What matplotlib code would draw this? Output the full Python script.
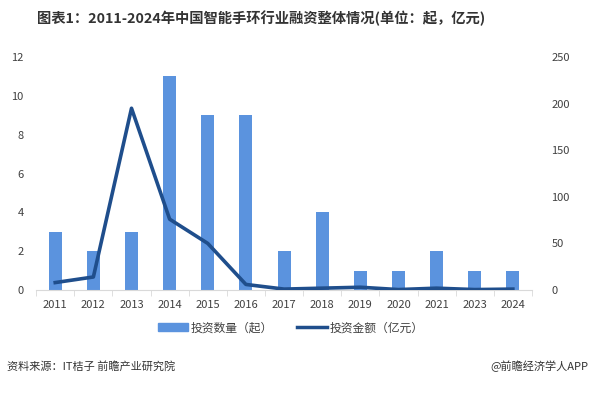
import matplotlib
matplotlib.use("Agg")
import matplotlib.pyplot as plt
from matplotlib.patches import Patch
from matplotlib.lines import Line2D
import numpy as np

plt.rcParams['font.family'] = ['Noto Sans CJK SC', 'DejaVu Sans']

years = ["2011", "2012", "2013", "2014", "2015", "2016", "2017", "2018", "2019", "2020", "2021", "2023", "2024"]
counts = [3, 2, 3, 11, 9, 9, 2, 4, 1, 1, 2, 1, 1]
amounts = [8, 14, 195, 76, 50, 6, 1, 2, 3, 0.5, 2, 0.5, 1]

bar_color = "#5B93DE"
line_color = "#1F4E8C"
text_color = "#404040"

fig = plt.figure(figsize=(5.93, 3.93), dpi=100)
ax = fig.add_axes([0.061, 0.262, 0.836, 0.593])
x = np.arange(len(years))
ax.bar(x, counts, width=0.34, color=bar_color, zorder=2)
ax.set_ylim(0, 12)
ax.set_yticks(range(0, 13, 2))
ax.set_xlim(-0.5, len(years) - 0.5)
ax.set_xticks(x)
ax.set_xticklabels(years)
ax.set_xticks(np.arange(-0.5, len(years), 1), minor=True)
ax.tick_params(axis='x', which='major', length=0, labelsize=8, colors=text_color, pad=7)
ax.tick_params(axis='x', which='minor', length=4, color="#D9D9D9")
ax.tick_params(axis='y', length=0, labelsize=8, colors=text_color, pad=9)
for s in ["top", "right", "left"]:
    ax.spines[s].set_visible(False)
ax.spines["bottom"].set_color("#D9D9D9")

ax2 = ax.twinx()
ax2.plot(x, amounts, color=line_color, linewidth=2.6, zorder=3)
ax2.set_ylim(0, 250)
ax2.set_yticks(range(0, 251, 50))
ax2.tick_params(axis='y', length=0, labelsize=8, colors=text_color, pad=14)
for s in ["top", "right", "left", "bottom"]:
    ax2.spines[s].set_visible(False)

fig.text(0.062, 0.952, "图表1：2011-2024年中国智能手环行业融资整体情况(单位：起，亿元)",
         fontsize=10.3, fontweight='bold', color="#333333", ha='left', va='center')

handles = [Patch(color=bar_color), Line2D([0], [0], color=line_color, linewidth=2.5)]
fig.legend(handles, ["投资数量（起）", "投资金额（亿元）"], loc='center', bbox_to_anchor=(0.49, 0.166),
           ncol=2, frameon=False, fontsize=8.5, handlelength=2.6, handleheight=0.6,
           columnspacing=2.0, handletextpad=0.2, labelcolor=text_color)

fig.text(0.012, 0.068, "资料来源：IT桔子 前瞻产业研究院", fontsize=8, color="#333333", ha='left', va='center')
fig.text(0.992, 0.068, "@前瞻经济学人APP", fontsize=8, color="#333333", ha='right', va='center')

fig.savefig("out.png", dpi=100)
